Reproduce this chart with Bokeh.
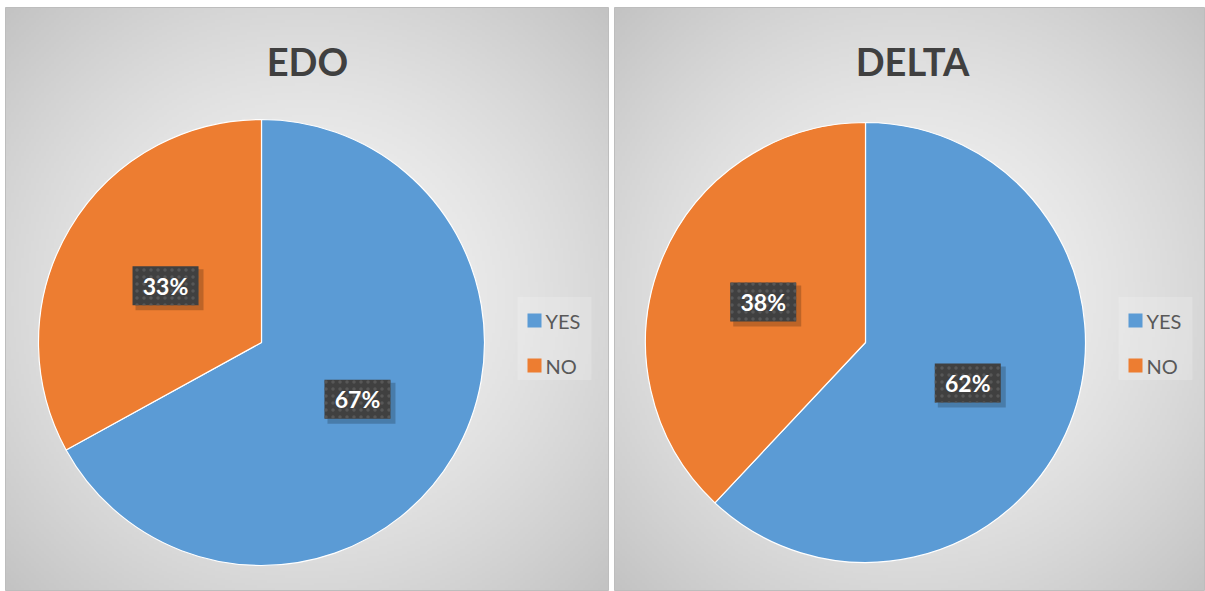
import numpy as np
from bokeh.plotting import figure
from bokeh.models import Range1d, ColumnDataSource
from bokeh.core.properties import value
from bokeh.embed import file_html
from bokeh.resources import INLINE

# ---- data ----
categories = ["YES", "NO"]
titles = ["EDO", "DELTA"]
edo_values = [67, 33]
delta_values = [62, 38]
colors = ["#5B9BD5", "#ED7D31"]

W, H = 1205, 591

p = figure(width=W, height=H, output_backend="svg", toolbar_location=None,
           min_border=0, x_range=Range1d(0, W), y_range=Range1d(0, H))
p.axis.visible = False
p.grid.visible = False
p.outline_line_color = None
p.background_fill_color = "white"
p.border_fill_color = "white"


def Y(py):
    return H - py


def gradient():
    ny, nx = 240, 240
    xs = np.linspace(-1, 1, nx)
    ys = np.linspace(-1, 1, ny)
    Xg, Yg = np.meshgrid(xs, ys)
    d = np.sqrt(Xg ** 2 + Yg ** 2) / np.sqrt(2)
    c = 245 - (245 - 195) * d ** 1.5
    c = np.clip(c, 0, 255).astype(np.uint32)
    img = (255 << 24) | (c << 16) | (c << 8) | c
    return img.astype(np.uint32)


def panel(title, vals, x0, x1, y0, y1, cx_px, cy_px, r, title_x_px, legend_x_px):
    # background
    p.image_rgba(image=[gradient()], x=x0, y=Y(y1), dw=x1 - x0, dh=y1 - y0)
    p.quad(left=x0, right=x1, bottom=Y(y1), top=Y(y0), fill_color=None,
           line_color="#BDBDBD", line_width=1)

    total = float(sum(vals))
    fr = np.array(vals) / total
    cum = np.concatenate([[0], np.cumsum(fr)])
    starts = np.pi / 2 - 2 * np.pi * cum[:-1]
    ends = np.pi / 2 - 2 * np.pi * cum[1:]
    mids = (starts + ends) / 2
    cx, cy = cx_px, Y(cy_px)

    src = ColumnDataSource(dict(start=starts, end=ends, color=colors, cat=categories))
    p.wedge(x=cx, y=cy, radius=r, start_angle="start", end_angle="end",
            direction="clock", fill_color="color", line_color="white",
            line_width=1.2, source=src)

    # data labels
    lx = cx + 0.5 * r * np.cos(mids)
    ly = cy + 0.5 * r * np.sin(mids)
    labels = ["%d%%" % v for v in vals]
    lsrc = ColumnDataSource(dict(x=lx, y=ly, sx=lx + 4, sy=ly - 4, t=labels))
    p.rect(x="sx", y="sy", width=68, height=41, fill_color="black",
           fill_alpha=0.2, line_color=None, source=lsrc)
    p.rect(x="x", y="y", width=66, height=39, fill_color="#404040",
           line_color=None, hatch_pattern=".", hatch_color="#575757",
           hatch_scale=7, hatch_weight=1.5, source=lsrc)
    p.text(x="x", y="y", text="t", text_color="white",
           text_font=value("Lato"), text_font_style="bold",
           text_font_size="23px", text_align="center", text_baseline="middle",
           source=lsrc)

    # title
    p.text(x=[title_x_px], y=[Y(60)], text=[title], text_color="#404040",
           text_font=value("Lato"), text_font_style="bold",
           text_font_size="38px", text_align="center", text_baseline="middle")

    # legend
    p.rect(x=[legend_x_px + 37], y=[Y(338)], width=74, height=83,
           fill_color="white", fill_alpha=0.18, line_color=None)
    lgsrc = ColumnDataSource(dict(x=[legend_x_px + 17] * 2, tx=[legend_x_px + 28] * 2,
                                  y=[Y(320), Y(365)], c=colors, t=categories))
    p.rect(x="x", y="y", width=14, height=14, fill_color="c", line_color=None, source=lgsrc)
    p.text(x="tx", y="y", text="t", text_color="#595959", text_font=value("Lato"),
           text_font_size="20px", text_align="left", text_baseline="middle",
           source=lgsrc)


panel(titles[0], edo_values, 5, 608, 7, 590, 261, 342, 223, 307, 517)
panel(titles[1], delta_values, 614, 1204, 7, 590, 865, 342, 220, 912, 1118)

open("out.html", "w").write(file_html(p, INLINE))
